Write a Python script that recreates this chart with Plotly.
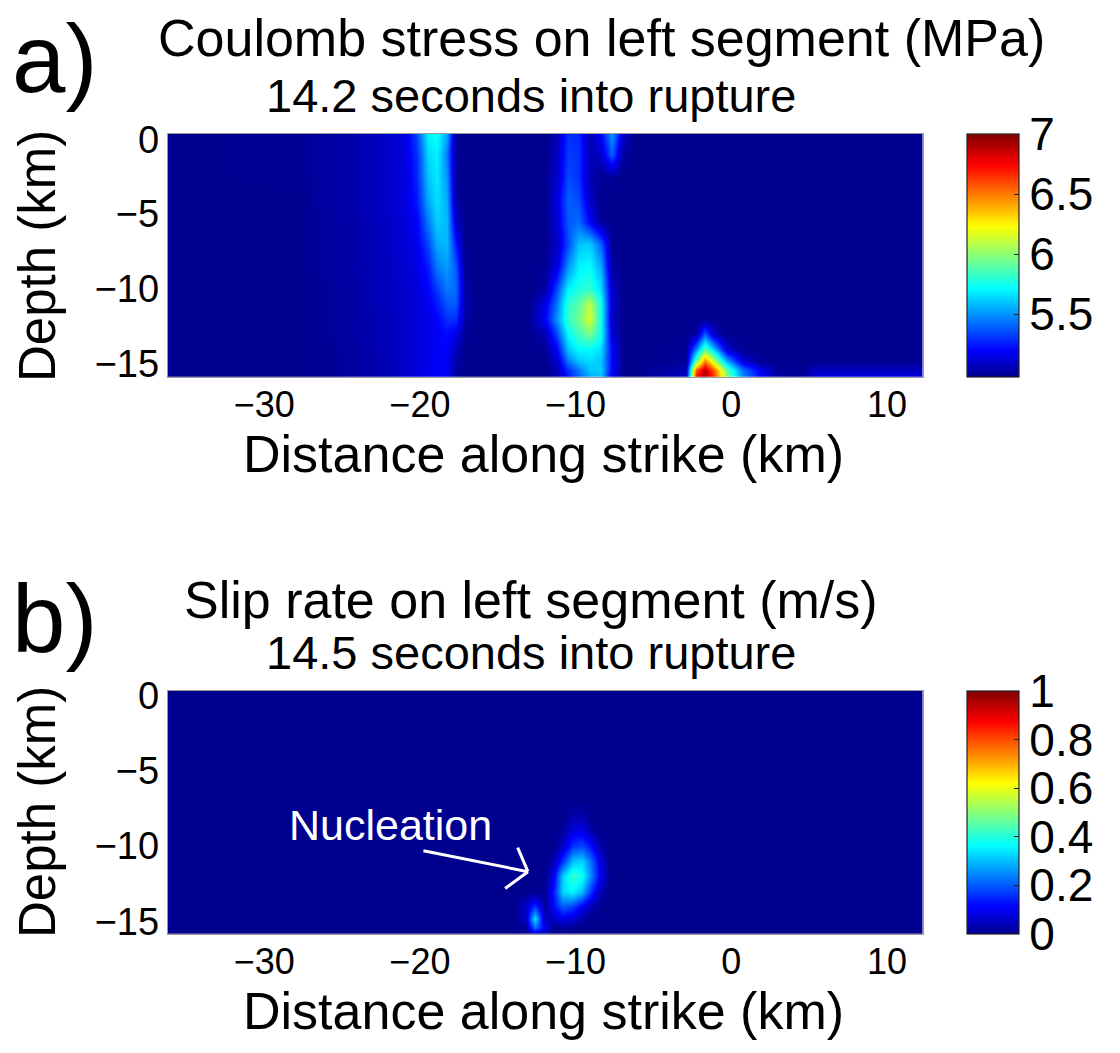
import plotly.graph_objects as go

# ---------------------------------------------------------------
# Panel a: Coulomb stress on the left fault segment (MPa), t = 14.2 s
# grid nodes along strike (km) and depth (km); rows follow STRESS_DEPTH
# ---------------------------------------------------------------
STRESS_X = [-36.2, -28.0, -26.0, -24.0, -22.0, -21.0, -20.2, -19.5, -18.9, -18.3,
            -17.7, -17.1, -16.3, -13.0, -12.0, -11.2, -10.5, -9.8, -9.1, -8.4,
            -7.7, -7.0, -6.2, -2.9, -2.3, -1.7, -1.1, -0.3, 0.7, 1.8,
            3.0, 4.5, 5.5, 12.3]
STRESS_DEPTH = [0.35, -1.0, -2.5, -4.0, -5.5, -7.0, -8.5, -10.0, -11.0, -12.0,
                -13.0, -14.0, -14.8, -15.4, -15.85]
STRESS = [
    [4.98, 4.99, 5.02, 5.05, 5.10, 5.14, 5.35, 5.70, 5.74, 5.55, 5.00, 4.98, 4.98, 4.98, 4.98, 5.05, 5.30,
     5.28, 5.05, 5.20, 5.52, 5.10, 4.98, 4.98, 4.98, 4.98, 4.98, 4.98, 4.98, 4.98, 4.98, 4.98, 4.98, 4.98],
    [4.98, 4.99, 5.02, 5.05, 5.10, 5.14, 5.30, 5.64, 5.70, 5.45, 5.00, 4.98, 4.98, 4.98, 4.98, 5.08, 5.32,
     5.30, 5.05, 5.10, 5.40, 5.02, 4.98, 4.98, 4.98, 4.98, 4.98, 4.98, 4.98, 4.98, 4.98, 4.98, 4.98, 4.98],
    [4.98, 4.99, 5.02, 5.05, 5.10, 5.14, 5.28, 5.60, 5.68, 5.50, 5.00, 4.98, 4.98, 4.98, 4.98, 5.10, 5.35,
     5.30, 5.05, 4.99, 5.00, 4.98, 4.98, 4.98, 4.98, 4.98, 4.98, 4.98, 4.98, 4.98, 4.98, 4.98, 4.98, 4.98],
    [4.98, 4.98, 5.02, 5.05, 5.10, 5.14, 5.25, 5.55, 5.66, 5.55, 5.02, 4.98, 4.98, 4.98, 4.98, 5.15, 5.40,
     5.35, 5.08, 4.99, 4.98, 4.98, 4.98, 4.98, 4.98, 4.98, 4.98, 4.98, 4.98, 4.98, 4.98, 4.98, 4.98, 4.98],
    [4.98, 4.98, 5.01, 5.04, 5.09, 5.13, 5.20, 5.45, 5.62, 5.58, 5.10, 4.98, 4.98, 4.98, 4.98, 5.12, 5.38,
     5.42, 5.20, 5.00, 4.98, 4.98, 4.98, 4.98, 4.98, 4.98, 4.98, 4.98, 4.98, 4.98, 4.98, 4.98, 4.98, 4.98],
    [4.98, 4.98, 5.01, 5.04, 5.09, 5.12, 5.17, 5.35, 5.55, 5.58, 5.25, 4.98, 4.98, 4.98, 4.98, 5.08, 5.35,
     5.60, 5.62, 5.40, 4.99, 4.98, 4.98, 4.98, 4.98, 4.98, 4.98, 4.98, 4.98, 4.98, 4.98, 4.98, 4.98, 4.98],
    [4.98, 4.98, 5.01, 5.04, 5.08, 5.11, 5.15, 5.25, 5.45, 5.52, 5.38, 4.99, 4.98, 4.98, 4.99, 5.15, 5.50,
     5.70, 5.72, 5.55, 5.02, 4.98, 4.98, 4.98, 4.98, 4.98, 4.98, 4.98, 4.98, 4.98, 4.98, 4.98, 4.98, 4.98],
    [4.98, 4.98, 5.00, 5.03, 5.08, 5.10, 5.14, 5.20, 5.32, 5.45, 5.42, 5.02, 4.98, 4.98, 5.02, 5.35, 5.70,
     5.78, 5.82, 5.65, 5.10, 4.98, 4.98, 4.98, 4.98, 4.98, 4.98, 4.98, 4.98, 4.98, 4.98, 4.98, 4.98, 4.98],
    [4.98, 4.98, 5.00, 5.03, 5.08, 5.10, 5.13, 5.17, 5.25, 5.38, 5.38, 5.03, 4.98, 4.98, 5.15, 5.45, 5.80,
     5.90, 6.10, 5.75, 5.10, 4.98, 4.98, 4.98, 4.98, 4.98, 4.98, 4.98, 4.98, 4.98, 4.98, 4.98, 4.98, 4.98],
    [4.98, 4.98, 5.00, 5.03, 5.07, 5.10, 5.13, 5.16, 5.20, 5.30, 5.30, 5.02, 4.98, 4.98, 5.20, 5.50, 5.82,
     5.95, 6.15, 5.75, 5.08, 4.98, 4.98, 4.98, 4.98, 4.98, 4.98, 4.98, 4.98, 4.98, 4.98, 4.98, 4.98, 4.98],
    [4.98, 4.98, 5.00, 5.03, 5.07, 5.10, 5.13, 5.16, 5.19, 5.22, 5.15, 4.99, 4.98, 4.98, 5.05, 5.35, 5.72,
     5.85, 5.95, 5.75, 5.12, 4.98, 4.98, 4.98, 5.02, 5.40, 5.08, 4.98, 4.98, 4.98, 4.98, 4.98, 4.98, 4.98],
    [4.98, 4.98, 4.99, 5.02, 5.07, 5.10, 5.13, 5.16, 5.19, 5.20, 5.08, 4.98, 4.98, 4.98, 4.99, 5.20, 5.60,
     5.72, 5.72, 5.65, 5.20, 4.99, 4.98, 4.99, 5.45, 5.90, 5.60, 5.10, 4.99, 4.98, 4.98, 4.98, 4.98, 4.98],
    [4.98, 4.98, 4.99, 5.02, 5.06, 5.10, 5.13, 5.16, 5.19, 5.18, 5.03, 4.98, 4.98, 4.98, 4.98, 5.10, 5.45,
     5.60, 5.65, 5.60, 5.20, 4.99, 4.98, 5.00, 5.90, 6.50, 6.10, 5.55, 5.15, 4.99, 4.98, 4.98, 4.98, 4.98],
    [4.98, 4.98, 4.99, 5.02, 5.06, 5.10, 5.14, 5.17, 5.20, 5.18, 5.02, 4.98, 4.98, 4.98, 4.98, 5.05, 5.30,
     5.45, 5.60, 5.62, 5.20, 4.99, 4.98, 5.05, 6.55, 6.88, 6.55, 5.90, 5.45, 5.18, 5.00, 4.99, 5.08, 5.08],
    [4.98, 4.98, 4.99, 5.02, 5.06, 5.10, 5.14, 5.17, 5.22, 5.20, 5.02, 4.98, 4.98, 4.98, 4.98, 5.03, 5.25,
     5.40, 5.55, 5.60, 5.15, 4.99, 4.98, 5.10, 6.70, 6.92, 6.65, 6.00, 5.50, 5.22, 5.02, 5.00, 5.14, 5.14],
]
STRESS_RANGE = [4.98, 7.0]
STRESS_TICKS = [5.5, 6.0, 6.5, 7.0]
STRESS_TICKTEXT = ["5.5", "6", "6.5", "7"]

# ---------------------------------------------------------------
# Panel b: slip rate on the left fault segment (m/s), t = 14.5 s
# ---------------------------------------------------------------
SLIP_X = [-36.2, -14.0, -13.2, -12.6, -12.0, -11.4, -10.8, -10.2, -9.6, -9.0, -8.4, -7.8, -7.0, 12.3]
SLIP_DEPTH = [0.4, -7.0, -8.0, -9.0, -10.0, -11.0, -12.0, -13.0, -14.0, -14.8, -15.4, -15.85]
SLIP = [
    [0, 0, 0, 0, 0, 0, 0, 0, 0, 0, 0, 0, 0, 0],
    [0, 0, 0, 0, 0, 0, 0, 0, 0, 0, 0, 0, 0, 0],
    [0, 0, 0, 0, 0, 0, 0, 0.03, 0.03, 0, 0, 0, 0, 0],
    [0, 0, 0, 0, 0, 0, 0.01, 0.08, 0.09, 0.03, 0, 0, 0, 0],
    [0, 0, 0, 0, 0, 0, 0.06, 0.16, 0.18, 0.12, 0.02, 0, 0, 0],
    [0, 0, 0, 0, 0, 0.03, 0.16, 0.30, 0.32, 0.22, 0.07, 0, 0, 0],
    [0, 0, 0, 0, 0, 0.10, 0.32, 0.42, 0.38, 0.25, 0.09, 0, 0, 0],
    [0, 0, 0, 0, 0.01, 0.14, 0.33, 0.36, 0.30, 0.16, 0.03, 0, 0, 0],
    [0, 0, 0.06, 0.17, 0.01, 0.12, 0.20, 0.17, 0.10, 0.03, 0, 0, 0, 0],
    [0, 0, 0.06, 0.34, 0.04, 0.05, 0.09, 0.07, 0.02, 0, 0, 0, 0, 0],
    [0, 0, 0.01, 0.22, 0.09, 0, 0.01, 0, 0, 0, 0, 0, 0, 0],
    [0, 0, 0, 0.05, 0.03, 0, 0, 0, 0, 0, 0, 0, 0, 0],
]
SLIP_RANGE = [0.0, 1.0]
SLIP_TICKS = [0, 0.2, 0.4, 0.6, 0.8, 1.0]
SLIP_TICKTEXT = ["0", "0.2", "0.4", "0.6", "0.8", "1"]

X_TICKS = [-30, -20, -10, 0, 10]
Y_TICKS = [0, -5, -10, -15]
X_RANGE = [-36.2, 12.3]
Y_RANGE = [-15.85, 0.35]

# nucleation pointer in panel b (km): shaft tail, tip, and the two barb ends
POINTER_TAIL = (-19.87, -10.29)
POINTER_TIP = (-13.06, -11.7)
POINTER_BARBS = [(-13.76, -10.0), (-14.62, -12.89)]
NUCLEATION_LABEL_AT = (-21.9, -8.6)

# MATLAB-style jet colour map
JET = [
    [0.0, "rgb(0,0,143)"],
    [7 / 63, "rgb(0,0,255)"],
    [23 / 63, "rgb(0,255,255)"],
    [39 / 63, "rgb(255,255,0)"],
    [55 / 63, "rgb(255,0,0)"],
    [1.0, "rgb(128,0,0)"],
]

W, H = 1120, 1053
FONT = "Liberation Sans, Arial, Helvetica, sans-serif"


def fx(px):
    return px / W


def fy(py):
    return 1 - py / H


PLOT_L, PLOT_R = 167.7, 922.7
A_TOP, A_BOT = 134.0, 376.7
B_TOP, B_BOT = 690.7, 934.0
CB_L, CB_W = 967.0, 52.0


def colorbar(top, bot, tickvals, ticktext):
    return dict(
        x=fx(CB_L), xanchor="left", xpad=0,
        y=fy((top + bot) / 2), yanchor="middle", ypad=0,
        len=bot - top, lenmode="pixels",
        thickness=CB_W, thicknessmode="pixels",
        outlinewidth=1.2, outlinecolor="#222",
        tickvals=tickvals, ticktext=ticktext,
        ticks="inside", ticklen=5, tickcolor="#222",
        tickfont=dict(family=FONT, size=46, color="black"),
    )


fig = go.Figure()
fig.add_trace(go.Heatmap(
    x=STRESS_X, y=STRESS_DEPTH, z=STRESS,
    zmin=STRESS_RANGE[0], zmax=STRESS_RANGE[1],
    colorscale=JET, zsmooth="best",
    colorbar=colorbar(A_TOP, A_BOT, STRESS_TICKS, STRESS_TICKTEXT),
    xaxis="x", yaxis="y", hoverinfo="skip",
))
fig.add_trace(go.Heatmap(
    x=SLIP_X, y=SLIP_DEPTH, z=SLIP,
    zmin=SLIP_RANGE[0], zmax=SLIP_RANGE[1],
    colorscale=JET, zsmooth="best",
    colorbar=colorbar(B_TOP, B_BOT, SLIP_TICKS, SLIP_TICKTEXT),
    xaxis="x2", yaxis="y2", hoverinfo="skip",
))

tickfont = dict(family=FONT, size=36, color="black")
xcommon = dict(
    range=X_RANGE, tickvals=X_TICKS, ticktext=["\u221230", "\u221220", "\u221210", "0", "10"],
    ticks="", showgrid=False, zeroline=False, tickfont=tickfont, ticklabelstandoff=-4,
    showline=True, linecolor="#999", linewidth=1, mirror=True, automargin=False,
    domain=[fx(PLOT_L), fx(PLOT_R)],
)
ycommon = dict(
    range=Y_RANGE, tickvals=Y_TICKS, ticktext=["0", "\u22125", "\u221210", "\u221215"],
    ticks="", showgrid=False, zeroline=False, tickfont=dict(tickfont, size=38),
    showline=True, linecolor="#999", linewidth=1, mirror=True, automargin=False,
)

fig.update_layout(
    width=W, height=H,
    margin=dict(l=0, r=0, t=0, b=0, autoexpand=False),
    paper_bgcolor="white", plot_bgcolor="white",
    showlegend=False,
    xaxis=dict(xcommon, anchor="y"),
    yaxis=dict(ycommon, anchor="x", domain=[fy(A_BOT), fy(A_TOP)]),
    xaxis2=dict(xcommon, anchor="y2"),
    yaxis2=dict(ycommon, anchor="x2", domain=[fy(B_BOT), fy(B_TOP)]),
)

BLACK = "black"
annotations = [
    # panel letters
    dict(text="a)", x=fx(10), y=fy(58), xanchor="left", font=dict(size=96)),
    dict(text="b)", x=fx(10), y=fy(618), xanchor="left", font=dict(size=96)),
    # panel titles
    dict(text="Coulomb stress on left segment (MPa)", x=fx(601), y=fy(38), font=dict(size=52)),
    dict(text="14.2 seconds into rupture", x=fx(531), y=fy(95), font=dict(size=47)),
    dict(text="Slip rate on left segment (m/s)", x=fx(531), y=fy(600), font=dict(size=52)),
    dict(text="14.5 seconds into rupture", x=fx(531), y=fy(652), font=dict(size=47)),
    # axis titles
    dict(text="Distance along strike (km)", x=fx(543), y=fy(454), font=dict(size=52)),
    dict(text="Distance along strike (km)", x=fx(543), y=fy(1011), font=dict(size=52)),
    dict(text="Depth (km)", x=fx(37), y=fy(256), textangle=-90, font=dict(size=51)),
    dict(text="Depth (km)", x=fx(37), y=fy(812), textangle=-90, font=dict(size=51)),
]
for a in annotations:
    a.setdefault("xanchor", "center")
    a.update(xref="paper", yref="paper", yanchor="middle", showarrow=False)
    a["font"].update(family=FONT, color=BLACK)

# nucleation label and pointer in panel b
annotations.append(dict(
    text="Nucleation", x=NUCLEATION_LABEL_AT[0], y=NUCLEATION_LABEL_AT[1], xref="x2", yref="y2",
    showarrow=False, xanchor="center", yanchor="middle",
    font=dict(family=FONT, size=43, color="white"),
))
for start in [POINTER_TAIL] + POINTER_BARBS:
    annotations.append(dict(
        text="", x=POINTER_TIP[0], y=POINTER_TIP[1], xref="x2", yref="y2",
        ax=start[0], ay=start[1], axref="x2", ayref="y2",
        showarrow=True, arrowhead=0, arrowwidth=3, arrowcolor="white", standoff=0,
    ))
fig.update_layout(annotations=annotations)

fig.write_html("out.html")
